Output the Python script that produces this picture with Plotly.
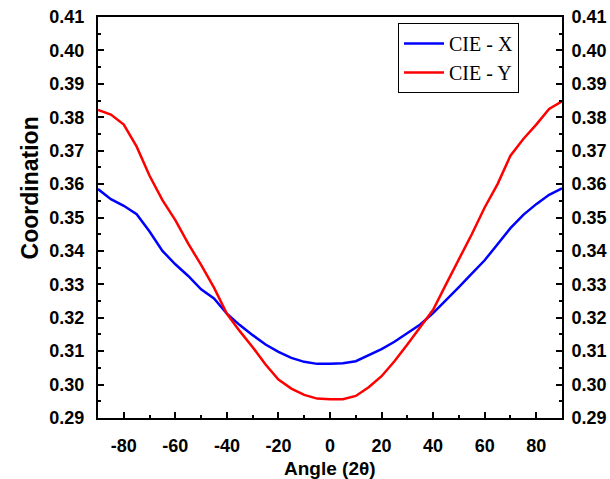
import plotly.graph_objects as go

# angle (2theta) in degrees
angle = list(range(-90, 91, 5))

# CIE chromaticity coordinates
cie_x = [0.3585, 0.3555, 0.3535, 0.3510, 0.3458, 0.3400, 0.3360, 0.3325, 0.3285, 0.3258,
         0.3212, 0.3178, 0.3148, 0.3120, 0.3098, 0.3080, 0.3068, 0.3062, 0.3062, 0.3064,
         0.3070, 0.3088, 0.3106, 0.3128, 0.3155, 0.3180, 0.3214, 0.3252, 0.3292, 0.3332,
         0.3372, 0.3420, 0.3468, 0.3508, 0.3540, 0.3568, 0.3587]
cie_y = [0.3822, 0.3808, 0.3778, 0.3712, 0.3625, 0.3552, 0.3492, 0.3422, 0.3358, 0.3290,
         0.3212, 0.3160, 0.3112, 0.3060, 0.3015, 0.2988, 0.2969, 0.2958, 0.2956, 0.2956,
         0.2966, 0.2992, 0.3025, 0.3070, 0.3120, 0.3172, 0.3224, 0.3300, 0.3375, 0.3450,
         0.3530, 0.3600, 0.3685, 0.3735, 0.3778, 0.3825, 0.3848]

x_ticks = [-80, -60, -40, -20, 0, 20, 40, 60, 80]
x_labels = ["-80", "-60", "-40", "-20", "0", "20", "40", "60", "80"]

tick_font = dict(family="Liberation Sans, Arial", size=18, color="black", weight="bold")

fig = go.Figure()
fig.add_trace(go.Scatter(x=angle, y=cie_x, name="CIE - X", mode="lines",
                         line=dict(color="#0000ff", width=2.5)))
fig.add_trace(go.Scatter(x=angle, y=cie_y, name="CIE - Y", mode="lines",
                         line=dict(color="#ff0000", width=2.5)))

y_common = dict(range=[0.29, 0.41], dtick=0.01, tickformat=".2f",
                ticks="inside", ticklen=6, tickwidth=1.5, tickcolor="black",
                minor=dict(dtick=0.005, ticks="inside", ticklen=3, tickcolor="black"),
                showline=True, linecolor="black", linewidth=2,
                showgrid=False, zeroline=False, tickfont=tick_font, automargin=False)

fig.update_layout(
    width=610, height=479,
    margin=dict(l=98, r=48, t=17, b=61),
    plot_bgcolor="white", paper_bgcolor="white",
    showlegend=True,
    legend=dict(x=0.6466, y=0.985, xanchor="left", yanchor="top",
                bgcolor="white", bordercolor="black", borderwidth=1,
                font=dict(family="Liberation Serif, Times New Roman", size=20, color="black"),
                tracegroupgap=0, itemwidth=40),
    xaxis=dict(range=[-90, 90], tickmode="array", tickvals=x_ticks, ticktext=x_labels,
               ticks="inside", ticklen=6, tickwidth=1.5, tickcolor="black",
               minor=dict(dtick=10, tick0=0, ticks="inside", ticklen=3, tickcolor="black"),
               showline=True, linecolor="black", linewidth=2, mirror=True,
               showgrid=False, zeroline=False, tickfont=tick_font, ticklabelstandoff=10,
               automargin=False),
    yaxis=dict(**y_common, ticklabelstandoff=8),
    yaxis2=dict(**y_common, overlaying="y", side="right", anchor="x", ticklabelstandoff=4),
    annotations=[
        dict(text="Coordination", textangle=-90, xref="paper", yref="paper",
             x=-0.1466, y=0.575, xanchor="center", yanchor="middle", showarrow=False,
             font=dict(family="Liberation Sans, Arial", size=23, color="black", weight="bold")),
        dict(text="Angle (2θ)", xref="paper", yref="paper",
             x=0.5, y=-0.1247, xanchor="center", yanchor="middle", showarrow=False,
             font=dict(family="Liberation Sans, Arial", size=19, color="black", weight="bold")),
    ],
)
fig.add_trace(go.Scatter(x=[None], y=[None], yaxis="y2", showlegend=False, hoverinfo="skip"))

# drop the default page margin so the figure sits at the window's corner
fig.write_html("out.html", config={"displayModeBar": False},
               post_script="document.body.style.margin='0';")
